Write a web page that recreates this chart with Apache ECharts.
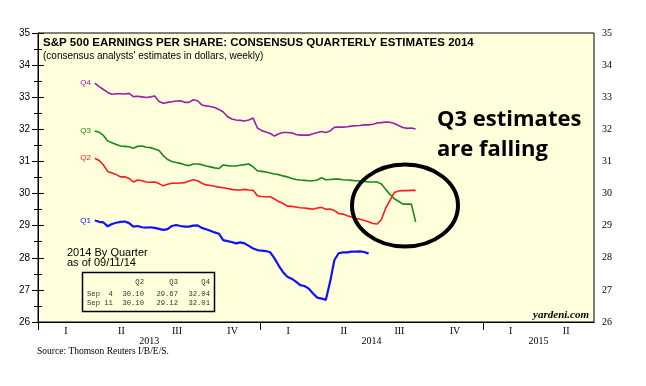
<!DOCTYPE html>
<html>
<head>
<meta charset="utf-8">
<script src="https://cdn.jsdelivr.net/npm/echarts@6/dist/echarts.min.js"></script>
<style>html,body{margin:0;padding:0;background:#fff;}#c{width:646px;height:386px;}</style>
</head>
<body>
<div id="c"></div>
<script>
// x axis unit: weeks since 1 Jan 2013; weekly observations
const startWeek = 13.3;
const q4 = [33.44,33.33,33.24,33.15,33.09,33.11,33.11,33.10,33.12,33.02,33.03,33.01,32.99,33.01,33.04,32.87,32.81,32.84,32.86,32.88,32.89,32.84,32.84,32.92,32.89,32.76,32.73,32.71,32.68,32.62,32.54,32.40,32.32,32.29,32.28,32.26,32.29,32.35,32.04,31.96,31.92,31.87,31.79,31.86,31.90,31.90,31.89,31.84,31.82,31.82,31.82,31.86,31.90,31.93,31.90,31.95,32.06,32.07,32.07,32.08,32.10,32.11,32.12,32.14,32.14,32.16,32.20,32.21,32.23,32.22,32.18,32.12,32.06,32.03,32.04,32.01];
const q3 = [31.95,31.91,31.81,31.64,31.58,31.53,31.48,31.47,31.46,31.41,31.47,31.48,31.44,31.43,31.39,31.34,31.18,31.06,31.00,30.97,30.94,30.90,30.87,30.92,30.92,30.90,30.86,30.83,30.80,30.78,30.89,30.87,30.86,30.86,30.88,30.90,30.92,30.83,30.71,30.69,30.67,30.64,30.61,30.59,30.55,30.52,30.47,30.44,30.42,30.41,30.40,30.40,30.42,30.49,30.43,30.44,30.45,30.45,30.43,30.42,30.41,30.40,30.39,30.38,30.36,30.36,30.36,30.30,30.13,29.97,29.84,29.76,29.67,29.67,29.67,29.12];
const q2 = [31.10,31.03,30.89,30.69,30.64,30.59,30.52,30.52,30.47,30.36,30.42,30.40,30.36,30.35,30.36,30.31,30.24,30.29,30.32,30.32,30.33,30.34,30.39,30.43,30.40,30.32,30.27,30.25,30.23,30.20,30.18,30.16,30.13,30.11,30.11,30.13,30.11,30.10,29.93,29.91,29.90,29.90,29.83,29.75,29.69,29.61,29.60,29.58,29.56,29.55,29.53,29.51,29.55,29.57,29.51,29.52,29.47,29.38,29.36,29.31,29.27,29.23,29.20,29.16,29.12,29.07,29.05,29.19,29.55,29.79,30.03,30.08,30.09,30.09,30.10,30.10];
const q1 = [29.16,29.12,29.10,28.98,29.05,29.09,29.12,29.13,29.08,28.97,28.99,28.95,28.94,28.95,28.93,28.90,28.87,28.89,28.99,29.02,28.99,28.97,28.97,29.00,29.01,28.93,28.89,28.84,28.79,28.75,28.55,28.52,28.49,28.45,28.48,28.45,28.37,28.29,28.24,28.22,28.21,28.17,27.98,27.75,27.55,27.41,27.35,27.26,27.15,27.12,27.04,26.89,26.76,26.73,26.69,27.25,27.93,28.14,28.17,28.17,28.19,28.19,28.20,28.18,28.13];

const quarterLabels = ['I','II','III','IV','I','II','III','IV','I','II'];
const quarterCenters = [6.5,19.5,32.5,45.5,58.5,71.5,84.5,97.5,110.5,123.5];
const yearLabels = ['2013','2014','2015'];
const yearCenters = [26,78,117];
const yearBreaks = [0,52,104];

const tableHeader = ['Q2','Q3','Q4'];
const tableRows = [
  {label:'Sep  4', vals:['30.10','29.67','32.04']},
  {label:'Sep 11', vals:['30.10','29.12','32.01']}
];

const seriesDefs = [
  {name:'Q4', data:q4, color:'#9b1fa8', width:1.6},
  {name:'Q3', data:q3, color:'#178a17', width:1.6},
  {name:'Q2', data:q2, color:'#ff1a1a', width:1.6},
  {name:'Q1', data:q1, color:'#1010ff', width:2.2}
];

const BG = '#FFFFDC';
const chart = echarts.init(document.getElementById('c'), null, {renderer:'canvas'});

const series = seriesDefs.map(s => ({
  type:'line', name:s.name, xAxisIndex:0, yAxisIndex:0,
  showSymbol:false, symbol:'none', animation:false,
  lineStyle:{color:s.color, width:s.width},
  itemStyle:{color:s.color},
  data: s.data.map((v,i) => [startWeek + i, v]),
  markPoint:{
    symbol:'circle', symbolSize:0, animation:false,
    label:{show:true, position:'left', distance:4, formatter:s.name, color:s.color, fontSize:8, fontFamily:'Liberation Sans'},
    data:[{coord:[startWeek, s.data[0]], value:s.name}]
  }
}));

const TFONT = '7.2px "Liberation Mono"';
const tableTexts = [];
const colRight = [144, 178, 210];
tableHeader.forEach((h,j) => tableTexts.push({type:'text', x:colRight[j], y:282.5, style:{text:h, font:TFONT, fill:'#333', align:'right', verticalAlign:'middle'}}));
tableRows.forEach((r,i) => {
  const y = 294 + i*9;
  tableTexts.push({type:'text', x:87, y:y, style:{text:r.label, font:TFONT, fill:'#333', align:'left', verticalAlign:'middle'}});
  r.vals.forEach((v,j) => tableTexts.push({type:'text', x:colRight[j], y:y, style:{text:v, font:TFONT, fill:'#333', align:'right', verticalAlign:'middle'}}));
});

const option = {
  backgroundColor:'#ffffff',
  animation:false,
  title:{
    text:'S&P 500 EARNINGS PER SHARE: CONSENSUS QUARTERLY ESTIMATES 2014',
    subtext:"(consensus analysts' estimates in dollars, weekly)",
    left:43, top:36, padding:0, itemGap:1,
    textStyle:{fontFamily:'Liberation Sans', fontSize:11.5, fontWeight:'bold', color:'#000', lineHeight:13},
    subtextStyle:{fontFamily:'Liberation Sans', fontSize:10, color:'#000', lineHeight:12}
  },
  grid:{left:38, right:52, top:33, bottom:64, show:true, backgroundColor:BG, borderColor:'#000', borderWidth:1},
  xAxis:[
    {type:'value', position:'bottom', min:0, max:130,
     axisLine:{show:true, lineStyle:{color:'#000', width:1}},
     axisTick:{show:true, customValues:yearBreaks, length:8, lineStyle:{color:'#000', width:1}},
     axisLabel:{show:true, customValues:quarterCenters, margin:4,
       formatter:(v) => { const k = quarterCenters.indexOf(v); return k >= 0 ? quarterLabels[k] : ''; },
       fontFamily:'Liberation Serif', fontSize:10, color:'#000'},
     splitLine:{show:false}},
    {type:'value', position:'bottom', min:0, max:130,
     axisLine:{show:false}, axisTick:{show:false}, splitLine:{show:false},
     axisLabel:{show:true, customValues:yearCenters, margin:14,
       formatter:(v) => { const k = yearCenters.indexOf(v); return k >= 0 ? yearLabels[k] : ''; },
       fontFamily:'Liberation Serif', fontSize:10, color:'#000'}}
  ],
  yAxis:[
    {type:'value', position:'left', min:26, max:35, interval:1,
     axisLine:{show:true, lineStyle:{color:'#000'}},
     axisTick:{show:true, length:6, lineStyle:{color:'#000'}},
     minorTick:{show:true, splitNumber:2, length:4, lineStyle:{color:'#000'}},
     splitLine:{show:false},
     axisLabel:{margin:8, fontFamily:'Liberation Sans', fontSize:10, color:'#000'}},
    {type:'value', position:'right', min:26, max:35, interval:1,
     axisLine:{show:true, lineStyle:{color:'#000'}},
     axisTick:{show:true, length:6, lineStyle:{color:'#000'}},
     minorTick:{show:true, splitNumber:2, length:4, lineStyle:{color:'#000'}},
     splitLine:{show:false},
     axisLabel:{margin:8, fontFamily:'Liberation Serif', fontSize:10, color:'#000'}}
  ],
  series: series,
  graphic:[
    {type:'text', x:67, y:253, style:{text:'2014 By Quarter', font:'11px "Liberation Sans"', fill:'#000', align:'left', verticalAlign:'middle'}},
    {type:'text', x:67, y:263, style:{text:'as of 09/11/14', font:'11px "Liberation Sans"', fill:'#000', align:'left', verticalAlign:'middle'}},
    {type:'rect', shape:{x:82.5, y:272.5, width:132, height:39}, style:{fill:BG, stroke:'#000', lineWidth:1.5}},
    ...tableTexts,
    {type:'text', x:589, y:315, style:{text:'yardeni.com', font:'italic bold 11px "Liberation Serif"', fill:'#000', align:'right', verticalAlign:'middle'}},
    {type:'text', x:37, y:351, style:{text:'Source: Thomson Reuters I/B/E/S.', font:'9.5px "Liberation Serif"', fill:'#000', align:'left', verticalAlign:'middle'}},
    {type:'text', x:437, y:108.5, style:{text:'Q3 estimates', font:'bold 22px "Open Sans"', fill:'#000', align:'left', verticalAlign:'alphabetic'}},
    {type:'text', x:437, y:138.5, style:{text:'are falling', font:'bold 22px "Open Sans"', fill:'#000', align:'left', verticalAlign:'alphabetic'}},
    {type:'ellipse', shape:{cx:405, cy:205.5, rx:53, ry:41}, style:{fill:null, stroke:'#000', lineWidth:4}, z:100}
  ]
};
chart.setOption(option);
</script>
</body>
</html>
